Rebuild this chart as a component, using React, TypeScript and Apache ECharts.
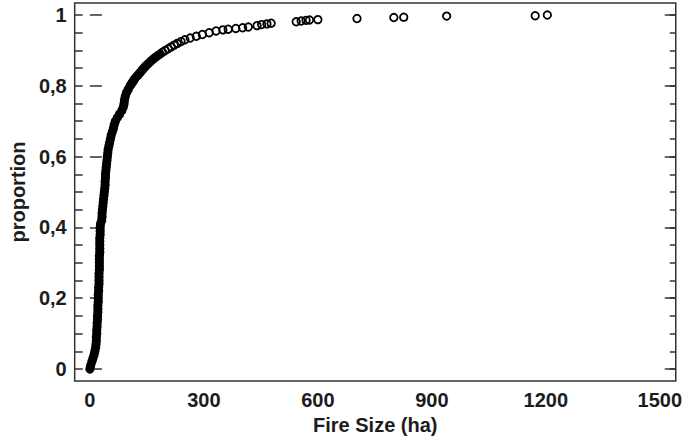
import React, { useEffect, useRef } from "react";
import * as echarts from "echarts";

// Fire sizes (ha), with their proportions
const fireSize = [
  0, 2, 5, 8, 11, 13, 15, 16, 17, 17,
  18, 18, 19, 19, 20, 20, 21, 21, 21, 22,
  22, 22, 23, 23, 24, 24, 24, 24, 25, 25,
  25, 25, 25, 26, 26, 26, 26, 26, 27, 27,
  27, 28, 31, 32, 32, 33, 34, 35, 36, 37,
  38, 39, 40, 40, 41, 41, 42, 43, 44, 45,
  46, 47, 48, 50, 52, 54, 56, 59, 62, 64,
  67, 72, 78, 84, 88, 90, 91, 93, 96, 101,
  106, 109, 112, 115, 118, 122, 126, 130, 134, 138,
  142, 146, 151, 156, 161, 166, 172, 178, 185, 191,
  198, 206, 214, 222, 230, 240, 250, 264, 280, 296,
  314, 332, 350, 364, 384, 402, 417, 440, 452, 466,
  477, 543, 556, 569, 578, 600, 703, 800, 826, 939,
  1172, 1204,
];
const proportion = [
  0.0, 0.01, 0.02, 0.03, 0.04, 0.05, 0.06, 0.07, 0.08, 0.09,
  0.1, 0.11, 0.12, 0.13, 0.14, 0.15, 0.16, 0.17, 0.18, 0.19,
  0.2, 0.21, 0.22, 0.23, 0.24, 0.25, 0.26, 0.27, 0.28, 0.29,
  0.3, 0.31, 0.32, 0.33, 0.34, 0.35, 0.36, 0.37, 0.38, 0.39,
  0.4, 0.41, 0.42, 0.43, 0.44, 0.45, 0.46, 0.47, 0.48, 0.49,
  0.5, 0.51, 0.52, 0.53, 0.54, 0.55, 0.56, 0.57, 0.58, 0.59,
  0.6, 0.61, 0.62, 0.63, 0.64, 0.65, 0.66, 0.67, 0.68, 0.69,
  0.7, 0.71, 0.72, 0.73, 0.74, 0.75, 0.76, 0.77, 0.78, 0.79,
  0.8, 0.805, 0.81, 0.815, 0.82, 0.825, 0.83, 0.835, 0.84, 0.845,
  0.85, 0.855, 0.86, 0.865, 0.87, 0.875, 0.88, 0.885, 0.89, 0.895,
  0.9, 0.905, 0.91, 0.915, 0.92, 0.925, 0.93, 0.935, 0.94, 0.945,
  0.95, 0.955, 0.958, 0.96, 0.962, 0.964, 0.966, 0.97, 0.973, 0.975,
  0.977, 0.981, 0.983, 0.985, 0.986, 0.987, 0.99, 0.993, 0.994, 0.997,
  0.998, 1.0,
];
// Where the markers overlap into a solid band (proportion up to this value)
const denseUpTo = 0.89;

const xTickValues = [0, 300, 600, 900, 1200, 1500];
const yTickValues = [0, 0.2, 0.4, 0.6, 0.8, 1];
const yMinorTickValues = [
  0, 0.05, 0.1, 0.15, 0.2, 0.25, 0.3, 0.35, 0.4, 0.45, 0.5,
  0.55, 0.6, 0.65, 0.7, 0.75, 0.8, 0.85, 0.9, 0.95, 1,
];

const FONT = "'Liberation Sans', Arial, sans-serif";
const INK = "#1c1c1c";

export default function App() {
  const ref = useRef<HTMLDivElement>(null);

  useEffect(() => {
    if (!ref.current) return;
    const chart = echarts.init(ref.current, null, { renderer: "svg" });

    const Y_MIN = -0.034;
    const Y_MAX = 1.034;

    const points = fireSize.map((s, i) => [s, proportion[i]]);
    const densePoints = points.filter((p) => p[1] <= denseUpTo);

    const tickAxis = (position: "left" | "right", values: number[], len: number) => ({
      type: "value",
      position,
      min: Y_MIN,
      max: Y_MAX,
      axisLine: { show: false },
      splitLine: { show: false },
      axisLabel: { show: false },
      axisTick: {
        show: true,
        inside: true,
        length: len,
        customValues: values,
        lineStyle: { color: "#333", width: 1.5 },
      },
    });

    chart.setOption({
      animation: false,
      backgroundColor: "#ffffff",
      grid: {
        left: 73,
        right: 9,
        top: 3,
        bottom: 61,
        show: true,
        borderColor: "#333",
        borderWidth: 1.5,
        backgroundColor: "transparent",
      },
      xAxis: {
        type: "value",
        min: -40,
        max: 1542,
        name: "Fire Size (ha)",
        nameLocation: "middle",
        nameGap: 32,
        nameTextStyle: { fontFamily: FONT, fontSize: 20, fontWeight: "bold", color: INK },
        axisLine: { show: false },
        axisTick: { show: false },
        splitLine: { show: false },
        axisLabel: {
          customValues: xTickValues,
          margin: 9,
          fontFamily: FONT,
          fontSize: 20,
          fontWeight: "bold",
          color: INK,
          formatter: (v: number) => String(v),
        },
      },
      yAxis: [
        {
          type: "value",
          position: "left",
          min: Y_MIN,
          max: Y_MAX,
          name: "proportion",
          nameLocation: "middle",
          nameGap: 46,
          nameTextStyle: { fontFamily: FONT, fontSize: 20, fontWeight: "bold", color: INK },
          axisLine: { show: false },
          splitLine: { show: false },
          axisTick: {
            show: true,
            inside: true,
            length: 12,
            customValues: yTickValues,
            lineStyle: { color: "#333", width: 1.5 },
          },
          axisLabel: {
            customValues: yTickValues,
            margin: 8,
            fontFamily: FONT,
            fontSize: 20,
            fontWeight: "bold",
            color: INK,
            formatter: (v: number) => String(v).replace(".", ","),
          },
        },
        tickAxis("left", yMinorTickValues, 8),
        tickAxis("right", yTickValues, 11),
        tickAxis("right", yMinorTickValues, 6),
      ],
      series: [
        {
          type: "line",
          xAxisIndex: 0,
          yAxisIndex: 0,
          showSymbol: false,
          symbol: "none",
          silent: true,
          z: 1,
          lineStyle: { color: "#000", width: 6.5, cap: "round", join: "round" },
          data: densePoints,
        },
        {
          type: "scatter",
          xAxisIndex: 0,
          yAxisIndex: 0,
          symbol: "circle",
          symbolSize: 7.5,
          z: 2,
          itemStyle: {
            color: "transparent",
            borderColor: "#000",
            borderWidth: 1.8,
            opacity: 1,
          },
          data: points,
        },
      ],
    });

    return () => chart.dispose();
  }, []);

  return (
    <div
      ref={ref}
      style={{ position: "absolute", left: 0, top: 0, width: 685, height: 442 }}
    />
  );
}
